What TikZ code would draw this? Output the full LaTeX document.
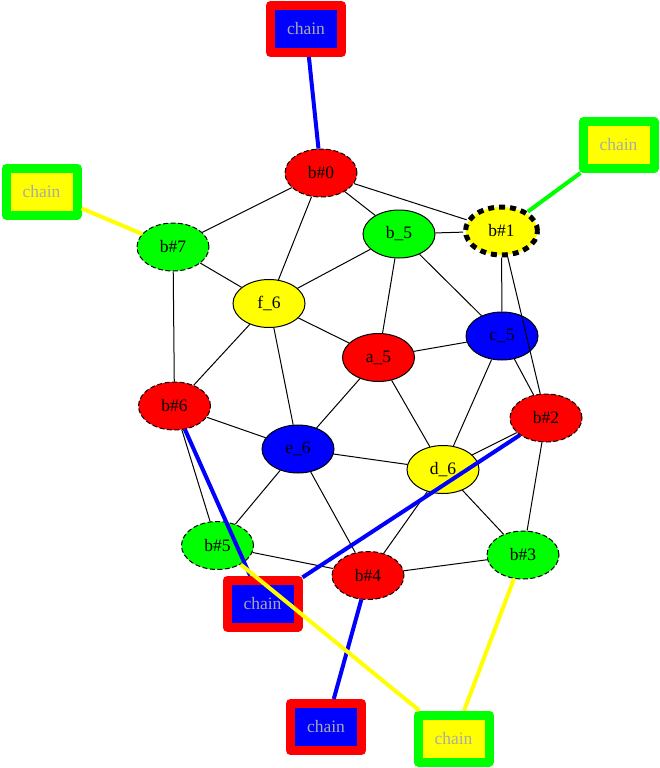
\documentclass[tikz,border=0pt]{standalone}
\usepackage{fontspec}
\setmainfont{Liberation Serif}
\usetikzlibrary{shapes.geometric}
\definecolor{chaingray}{RGB}{170,170,170}
\definecolor{gvred}{RGB}{255,0,0}
\definecolor{gvgreen}{RGB}{0,255,0}
\definecolor{gvblue}{RGB}{0,0,255}
\definecolor{gvyellow}{RGB}{255,255,0}
\begin{document}
\begin{tikzpicture}[x=1pt,y=-1pt,
  nd/.style={ellipse, draw=black, line width=1pt, minimum width=72pt, minimum height=48pt, inner sep=0pt, font=\fontsize{17.5}{20}\selectfont},
  bd/.style={nd, dash pattern=on 5pt off 2.5pt},
  bthick/.style={nd, line width=5pt, dash pattern=on 6pt off 5pt},
  chainbox/.style={rectangle, line width=9pt, line join=round, minimum width=71pt, minimum height=47pt, inner sep=0pt, text=chaingray, font=\fontsize{17.5}{20}\selectfont},
  ce/.style={line width=4pt},
  be/.style={line width=1pt, black}
]
\useasboundingbox (0,0) rectangle (660,768);
% chain boxes
\node[chainbox, draw=gvred, fill=gvblue] (cT) at (306,29) {chain};
\node[chainbox, draw=gvgreen, fill=gvyellow] (cTR) at (618.5,145) {chain};
\node[chainbox, draw=gvgreen, fill=gvyellow] (cL) at (41.5,191.5) {chain};
\node[chainbox, draw=gvred, fill=gvblue] (cM) at (262.5,603.5) {chain};
\node[chainbox, draw=gvred, fill=gvblue] (cB) at (326,727) {chain};
\node[chainbox, draw=gvgreen, fill=gvyellow] (cBY) at (453.5,738.5) {chain};
% graph nodes
\node[bd, fill=gvred] (b0) at (321,173) {b\#0};
\node[nd, fill=gvgreen] (b5) at (399,234) {b\_5};
\node[bthick, fill=gvyellow] (b1) at (501.5,231) {b\#1};
\node[bd, fill=gvgreen] (b7) at (173,247) {b\#7};
\node[nd, fill=gvyellow] (f6) at (269,303.5) {f\_6};
\node[nd, fill=gvblue] (c5) at (502,336) {c\_5};
\node[nd, fill=gvred] (a5) at (378.5,357.5) {a\_5};
\node[bd, fill=gvred] (b6) at (174.5,406) {b\#6};
\node[bd, fill=gvred] (b2) at (546,418) {b\#2};
\node[nd, fill=gvblue] (e6) at (298,449) {e\_6};
\node[nd, fill=gvyellow] (d6) at (443,469.5) {d\_6};
\node[bd, fill=gvgreen] (bb5) at (217.5,545.5) {b\#5};
\node[bd, fill=gvgreen] (b3) at (523,555) {b\#3};
\node[bd, fill=gvred] (b4) at (368,575.5) {b\#4};
% black edges
\draw[be] (b0) -- (b7);
\draw[be] (b0) -- (f6);
\draw[be] (b0) -- (b5);
\draw[be] (b0) -- (b1);
\draw[be] (b5) -- (b1);
\draw[be] (b5) -- (f6);
\draw[be] (b5) -- (a5);
\draw[be] (b5) -- (c5);
\draw[be] (b1) -- (c5);
\draw[be] (b1) -- (b2);
\draw[be] (b7) -- (f6);
\draw[be] (b7) -- (b6);
\draw[be] (f6) -- (a5);
\draw[be] (f6) -- (b6);
\draw[be] (f6) -- (e6);
\draw[be] (c5) -- (a5);
\draw[be] (c5) -- (b2);
\draw[be] (c5) -- (d6);
\draw[be] (a5) -- (e6);
\draw[be] (a5) -- (d6);
\draw[be] (b6) -- (e6);
\draw[be] (b6) -- (bb5);
\draw[be] (b2) -- (d6);
\draw[be] (b2) -- (b3);
\draw[be] (e6) -- (d6);
\draw[be] (e6) -- (bb5);
\draw[be] (e6) -- (b4);
\draw[be] (d6) -- (b4);
\draw[be] (d6) -- (b3);
\draw[be] (bb5) -- (b4);
\draw[be] (b4) -- (b3);
% coloured edges
\draw[ce, gvblue] (cT) -- (b0);
\draw[ce, gvgreen] (cTR) -- (b1);
\draw[ce, gvyellow] (cL) -- (b7);
\draw[ce, gvblue] (b6) -- (cM);
\draw[ce, gvblue] (b2) -- (cM);
\draw[ce, gvblue] (b4) -- (cB);
\draw[ce, gvyellow] (bb5) -- (cBY);
\draw[ce, gvyellow] (b3) -- (cBY);
\end{tikzpicture}
\end{document}
